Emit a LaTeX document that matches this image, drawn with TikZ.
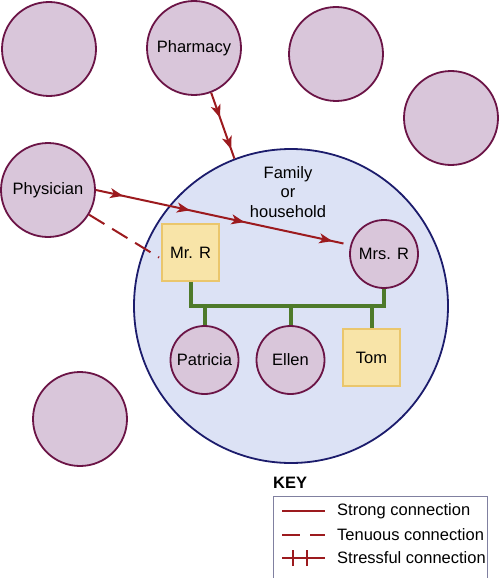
\documentclass[tikz,border=0pt]{standalone}
\usepackage{fontspec}
\setmainfont{Liberation Sans}
\usetikzlibrary{arrows.meta,decorations.markings,calc}
\definecolor{mauve}{HTML}{D9C6DA}
\definecolor{plum}{HTML}{6B1446}
\definecolor{famfill}{HTML}{DCE2F5}
\definecolor{navy}{HTML}{1C1C6C}
\definecolor{sqfill}{HTML}{F8E4A8}
\definecolor{sqedge}{HTML}{EAC66C}
\definecolor{linkred}{HTML}{9C1A1E}
\definecolor{treegreen}{HTML}{4E7A2A}
\definecolor{keyedge}{HTML}{8080A0}
\begin{document}
\begin{tikzpicture}[x=1pt,y=-1pt,
  >={Stealth[length=13pt,width=10pt,inset=3.5pt]},
  txt/.style={font=\fontsize{16.5}{19.5}\selectfont},
  outer/.style={circle,draw=plum,fill=mauve,line width=1.8pt,minimum size=94pt,inner sep=0pt,txt},
  person/.style={circle,draw=plum,fill=mauve,line width=1.8pt,minimum size=68pt,inner sep=0pt,txt},
  male/.style={rectangle,draw=sqedge,fill=sqfill,line width=1.8pt,minimum size=57pt,inner sep=0pt,txt},
  strong/.style={draw=linkred,line width=2pt},
  tenuous/.style={draw=linkred,line width=2pt,dash pattern=on 18pt off 9pt},
  tree/.style={draw=treegreen,line width=4pt}
]
\useasboundingbox (0,0) rectangle (498,578);

% family circle
\node[circle,draw=navy,fill=famfill,line width=1.8pt,minimum size=314pt,inner sep=0pt] (fam) at (291,306) {};
\node[txt,align=center] (famtxt) at (288,192) {Family\\or\\household};

% outer circles
\node[outer] (c1) at (49,49) {};
\node[outer] (pharm) at (194,48) {Pharmacy};
\node[outer] (c3) at (336,54) {};
\node[outer] (c4) at (451,118) {};
\node[outer] (phys) at (48,190) {Physician};
\node[outer] (c6) at (80,419) {};

% family members
\node[male] (mrr) at (190.5,252.5) {Mr. R};
\node[person] (mrsr) at (384,254) {Mrs. R};
\node[person] (pat) at (204.5,360) {Patricia};
\node[person] (ellen) at (290.5,360) {Ellen};
\node[male] (tom) at (371.5,357.5) {Tom};

% family tree
\coordinate (bar) at (0,306);
\draw[tree] (mrr.south) -- (mrr.south |- bar) -- (mrsr.south |- bar) -- (mrsr.south);
\draw[tree] (pat.north) -- (pat.north |- bar);
\draw[tree] (ellen.north) -- (ellen.north |- bar);
\draw[tree] (tom.north) -- (tom.north |- bar);

% connections
\coordinate (mend) at ($(mrsr.165)!7pt!(phys.east)$);
\draw[strong,postaction={decorate},decoration={markings,
  mark=at position 0.11 with {\arrow[linkred]{>}},
  mark=at position 0.38 with {\arrow[linkred]{>}},
  mark=at position 0.60 with {\arrow[linkred]{>}},
  mark=at position 0.955 with {\arrow[linkred]{>}}}]
  (phys.east) -- (mend);
\coordinate (pend) at (fam.111);
\draw[strong,postaction={decorate},decoration={markings,
  mark=at position 0.38 with {\arrow[linkred]{>}},
  mark=at position 0.86 with {\arrow[linkred]{>}}}]
  (pharm.-69) -- (pend);
\coordinate (dend) at ($(mrr.west)+(-2,5)$);
\draw[tenuous] (phys.-31) -- (dend);

% key
\node[font=\fontsize{16.5}{19.5}\selectfont\bfseries,anchor=west,inner sep=0pt] (keytitle) at (273,483) {KEY};
\node[draw=keyedge,line width=1pt,fill=white,anchor=north west,minimum width=214pt,minimum height=95pt,inner sep=0pt] (keybox) at (273,496) {};
\node[txt,anchor=west,inner sep=0pt] (k1) at (337,511) {Strong connection};
\node[txt,anchor=west,inner sep=0pt] (k2) at (337,535) {Tenuous connection};
\node[txt,anchor=west,inner sep=0pt] (k3) at (337,558) {Stressful connection};
\draw[strong] ([xshift=-55pt]k1.west) -- ([xshift=-12pt]k1.west);
\draw[strong,dash pattern=on 18pt off 10pt] ([xshift=-55pt]k2.west) -- ([xshift=-12pt]k2.west);
\draw[strong] ([xshift=-55pt]k3.west) -- ([xshift=-12pt]k3.west);
\draw[strong] ([xshift=-44pt,yshift=-8pt]k3.west) -- ([xshift=-44pt,yshift=8pt]k3.west);
\draw[strong] ([xshift=-30pt,yshift=-8pt]k3.west) -- ([xshift=-30pt,yshift=8pt]k3.west);
\end{tikzpicture}
\end{document}
